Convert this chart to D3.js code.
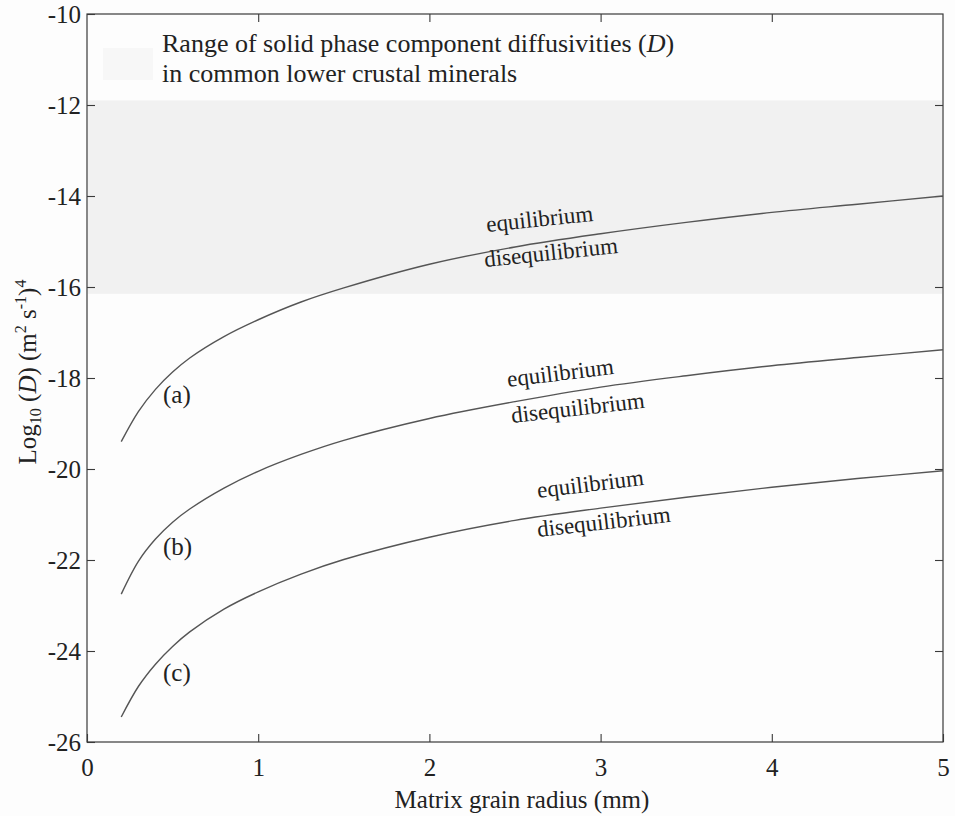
<!DOCTYPE html>
<html>
<head>
<meta charset="utf-8">
<script src="https://cdn.jsdelivr.net/npm/d3@7"></script>
<style>
  body { margin: 0; background: #fdfdfd; }
  svg { font-family: "Liberation Serif", "Times New Roman", serif; }
</style>
</head>
<body>
<svg id="chart" width="955" height="816"></svg>
<script>
// grain radius (mm) where the curves were read
const radius = [0.2, 0.3, 0.4, 0.5, 0.6, 0.8, 1.0, 1.25, 1.5, 2.0, 2.5, 3.0, 3.5, 4.0, 4.5, 5.0];
// log10 D for the three mineral groups
const curveA = [-19.40, -18.74, -18.25, -17.87, -17.56, -17.09, -16.72, -16.33, -16.02, -15.50, -15.12, -14.83, -14.58, -14.36, -14.18, -14.00];
const curveB = [-22.75, -22.03, -21.54, -21.17, -20.88, -20.42, -20.05, -19.68, -19.37, -18.89, -18.52, -18.20, -17.95, -17.73, -17.55, -17.38];
const curveC = [-25.45, -24.78, -24.29, -23.90, -23.58, -23.08, -22.70, -22.31, -21.99, -21.50, -21.13, -20.86, -20.62, -20.40, -20.21, -20.04];
const curveNames = ["(a)", "(b)", "(c)"];
const xTicks = [0, 1, 2, 3, 4, 5];
const yTicks = [-26, -24, -22, -20, -18, -16, -14, -12, -10];

const svg = d3.select("#chart");
const pLeft = 87, pRight = 943, pTop = 14, pBottom = 742;

const x = d3.scaleLinear().domain([0, 5]).range([pLeft, pRight]);
const y = d3.scaleLinear().domain([-26, -10]).range([pBottom, pTop]);

const ink = "#3a3a3a";

// grey patches showing through from the page behind
svg.append("rect")
  .attr("x", pLeft + 1).attr("y", y(-11.9))
  .attr("width", pRight - pLeft - 2).attr("height", y(-16.15) - y(-11.9))
  .attr("fill", "#f1f1f1");
svg.append("rect")
  .attr("x", 103).attr("y", 48).attr("width", 50).attr("height", 32)
  .attr("fill", "#f7f7f7");

// frame
svg.append("rect")
  .attr("x", pLeft).attr("y", pTop)
  .attr("width", pRight - pLeft).attr("height", pBottom - pTop)
  .attr("fill", "none").attr("stroke", ink).attr("stroke-width", 1.2);

// axes, ticks pointing inwards
const tickLen = 8;
svg.append("g").attr("transform", `translate(0,${pBottom})`)
  .call(d3.axisBottom(x).tickValues(xTicks).tickSize(-tickLen).tickPadding(16).tickFormat(d3.format("d")))
  .call(g => g.select(".domain").remove());
svg.append("g").attr("transform", `translate(0,${pTop})`)
  .call(d3.axisTop(x).tickValues(xTicks.slice(1, -1)).tickSize(-tickLen).tickFormat(""))
  .call(g => g.select(".domain").remove());
svg.append("g").attr("transform", `translate(${pLeft},0)`)
  .call(d3.axisLeft(y).tickValues(yTicks).tickSize(-tickLen).tickPadding(6).tickFormat(d3.format("d")))
  .call(g => g.select(".domain").remove());
svg.append("g").attr("transform", `translate(${pRight},0)`)
  .call(d3.axisRight(y).tickValues(yTicks.slice(1, -1)).tickSize(-tickLen).tickFormat(""))
  .call(g => g.select(".domain").remove());

svg.selectAll(".tick line").attr("stroke", ink).attr("stroke-width", 1.1);
svg.selectAll(".tick text")
  .attr("fill", "#222")
  .style("font-family", "Liberation Serif, serif")
  .style("font-size", "25px")
  .text(function () { return this.textContent.replace("−", "-"); });

// curves
const line = d3.line()
  .x((d, i) => x(radius[i]))
  .y(d => y(d))
  .curve(d3.curveCatmullRom.alpha(0.5));

[curveA, curveB, curveC].forEach(vals => {
  svg.append("path")
    .datum(vals)
    .attr("d", line)
    .attr("fill", "none")
    .attr("stroke", "#555")
    .attr("stroke-width", 1.4);
});

// (a) (b) (c) tags, baseline in data units
const tagY = [-18.56, -21.9, -24.65];
curveNames.forEach((n, i) => {
  svg.append("text")
    .attr("x", 163).attr("y", y(tagY[i]))
    .attr("font-size", 25).attr("fill", "#222")
    .text(n);
});

// equilibrium / disequilibrium labels along each curve
const regimeLabels = [
  { text: "equilibrium", x: 487, y: 232, angle: -6 },
  { text: "disequilibrium", x: 485, y: 267, angle: -6 },
  { text: "equilibrium", x: 508, y: 387, angle: -7 },
  { text: "disequilibrium", x: 512, y: 423, angle: -6.5 },
  { text: "equilibrium", x: 538, y: 498, angle: -7 },
  { text: "disequilibrium", x: 538, y: 537, angle: -6.5 }
];
regimeLabels.forEach(l => {
  svg.append("text")
    .attr("transform", `translate(${l.x},${l.y}) rotate(${l.angle})`)
    .attr("font-size", 23).attr("fill", "#222")
    .text(l.text);
});

// title inside the plot
const title = svg.append("text").attr("font-size", 26).attr("fill", "#222");
title.append("tspan").attr("x", 162).attr("y", 52).text("Range of solid phase component diffusivities (");
title.append("tspan").attr("font-style", "italic").text("D");
title.append("tspan").text(")");
svg.append("text").attr("x", 162).attr("y", 82).attr("font-size", 26).attr("fill", "#222")
  .text("in common lower crustal minerals");

// axis titles
svg.append("text")
  .attr("x", 522).attr("y", 808)
  .attr("text-anchor", "middle").attr("font-size", 25).attr("fill", "#222")
  .text("Matrix grain radius (mm)");

const yLab = svg.append("text")
  .attr("transform", "translate(36,372) rotate(-90)")
  .attr("text-anchor", "middle").attr("font-size", 25).attr("fill", "#222");
yLab.append("tspan").text("Log");
yLab.append("tspan").attr("font-size", 16).attr("dy", 5).text("10");
yLab.append("tspan").attr("dy", -5).text(" (");
yLab.append("tspan").attr("font-style", "italic").text("D");
yLab.append("tspan").text(") (m");
yLab.append("tspan").attr("font-size", 16).attr("dy", -10).text("2");
yLab.append("tspan").attr("dy", 10).text(" s");
yLab.append("tspan").attr("font-size", 16).attr("dy", -10).text("-1");
yLab.append("tspan").attr("dy", 10).text(")");
yLab.append("tspan").attr("font-size", 16).attr("dy", -10).text("4");
</script>
</body>
</html>
